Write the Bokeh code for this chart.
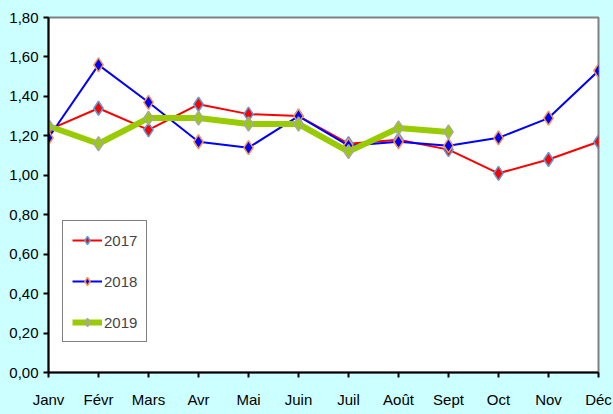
from bokeh.plotting import figure
from bokeh.models import Range1d, FixedTicker, Legend, LegendItem
from bokeh.embed import file_html
from bokeh.resources import INLINE

months = ["Janv", "Févr", "Mars", "Avr", "Mai", "Juin", "Juil", "Août", "Sept", "Oct", "Nov", "Déc"]
v2017 = [1.23, 1.34, 1.23, 1.36, 1.31, 1.30, 1.16, 1.18, 1.13, 1.01, 1.08, 1.17]
v2018 = [1.19, 1.56, 1.37, 1.17, 1.14, 1.30, 1.15, 1.17, 1.15, 1.19, 1.29, 1.53]
v2019 = [1.25, 1.16, 1.29, 1.29, 1.26, 1.26, 1.12, 1.24, 1.22]
y_ticks = [0.0, 0.2, 0.4, 0.6, 0.8, 1.0, 1.2, 1.4, 1.6, 1.8]
y_labels = ["0,00", "0,20", "0,40", "0,60", "0,80", "1,00", "1,20", "1,40", "1,60", "1,80"]

BG = "#CCFFFF"
FONT = "Liberation Sans"

p = figure(width=613, height=414, output_backend="svg", toolbar_location=None,
           x_range=Range1d(0, 11), y_range=Range1d(0, 1.8),
           min_border_left=48, min_border_right=15, min_border_top=17, min_border_bottom=42,
           background_fill_color="white", border_fill_color=BG)
p.outline_line_color = "#808080"
p.outline_line_width = 2
p.xgrid.visible = False
p.ygrid.visible = False

xs = list(range(len(months)))
p.xaxis.ticker = FixedTicker(ticks=xs)
p.xaxis.major_label_overrides = {i: m for i, m in zip(xs, months)}
p.yaxis.ticker = FixedTicker(ticks=y_ticks)
p.yaxis.major_label_overrides = {t: l for t, l in zip(y_ticks, y_labels)}
for ax in (p.xaxis, p.yaxis):
    ax.axis_line_color = "black"
    ax.axis_line_width = 2
    ax.major_tick_line_color = "black"
    ax.major_tick_line_width = 2
    ax.major_tick_out = 5
    ax.major_tick_in = 0
    ax.minor_tick_line_color = None
    ax.major_label_text_font = FONT
    ax.major_label_text_font_size = "15px"
    ax.major_label_text_color = "black"
p.xaxis.major_label_standoff = 13
p.yaxis.major_label_standoff = 5

series = [
    ("2017", v2017, "#FF0000", 2, "#FF0000", "#5B9BD5"),
    ("2018", v2018, "#0000FF", 2, "#0000FF", "#F79646"),
    ("2019", v2019, "#99CC00", 6, "#99CC00", "#A6A6A6"),
]
items = []
for name, vals, lc, lw, fc, oc in series:
    x = xs[:len(vals)]
    l = p.line(x, vals, line_color=lc, line_width=lw)
    s = p.scatter(x, vals, marker="diamond", size=14, fill_color=fc,
                  line_color=oc, line_width=1.5)
    items.append(LegendItem(label=name, renderers=[l, s]))

legend = Legend(items=items, location=(14, 30), orientation="vertical",
                border_line_color="black", border_line_width=1.5,
                background_fill_color="white", background_fill_alpha=1,
                label_text_font=FONT, label_text_font_size="15px",
                glyph_width=30, glyph_height=20, label_height=20,
                spacing=21, padding=9, label_standoff=2, margin=0)
p.add_layout(legend, "center")

html = file_html(p, INLINE)
html = html.replace("</head>", "<style>html,body{background:#CCFFFF;margin:0;padding:0;overflow:hidden;}</style></head>")
open("out.html", "w").write(html)
